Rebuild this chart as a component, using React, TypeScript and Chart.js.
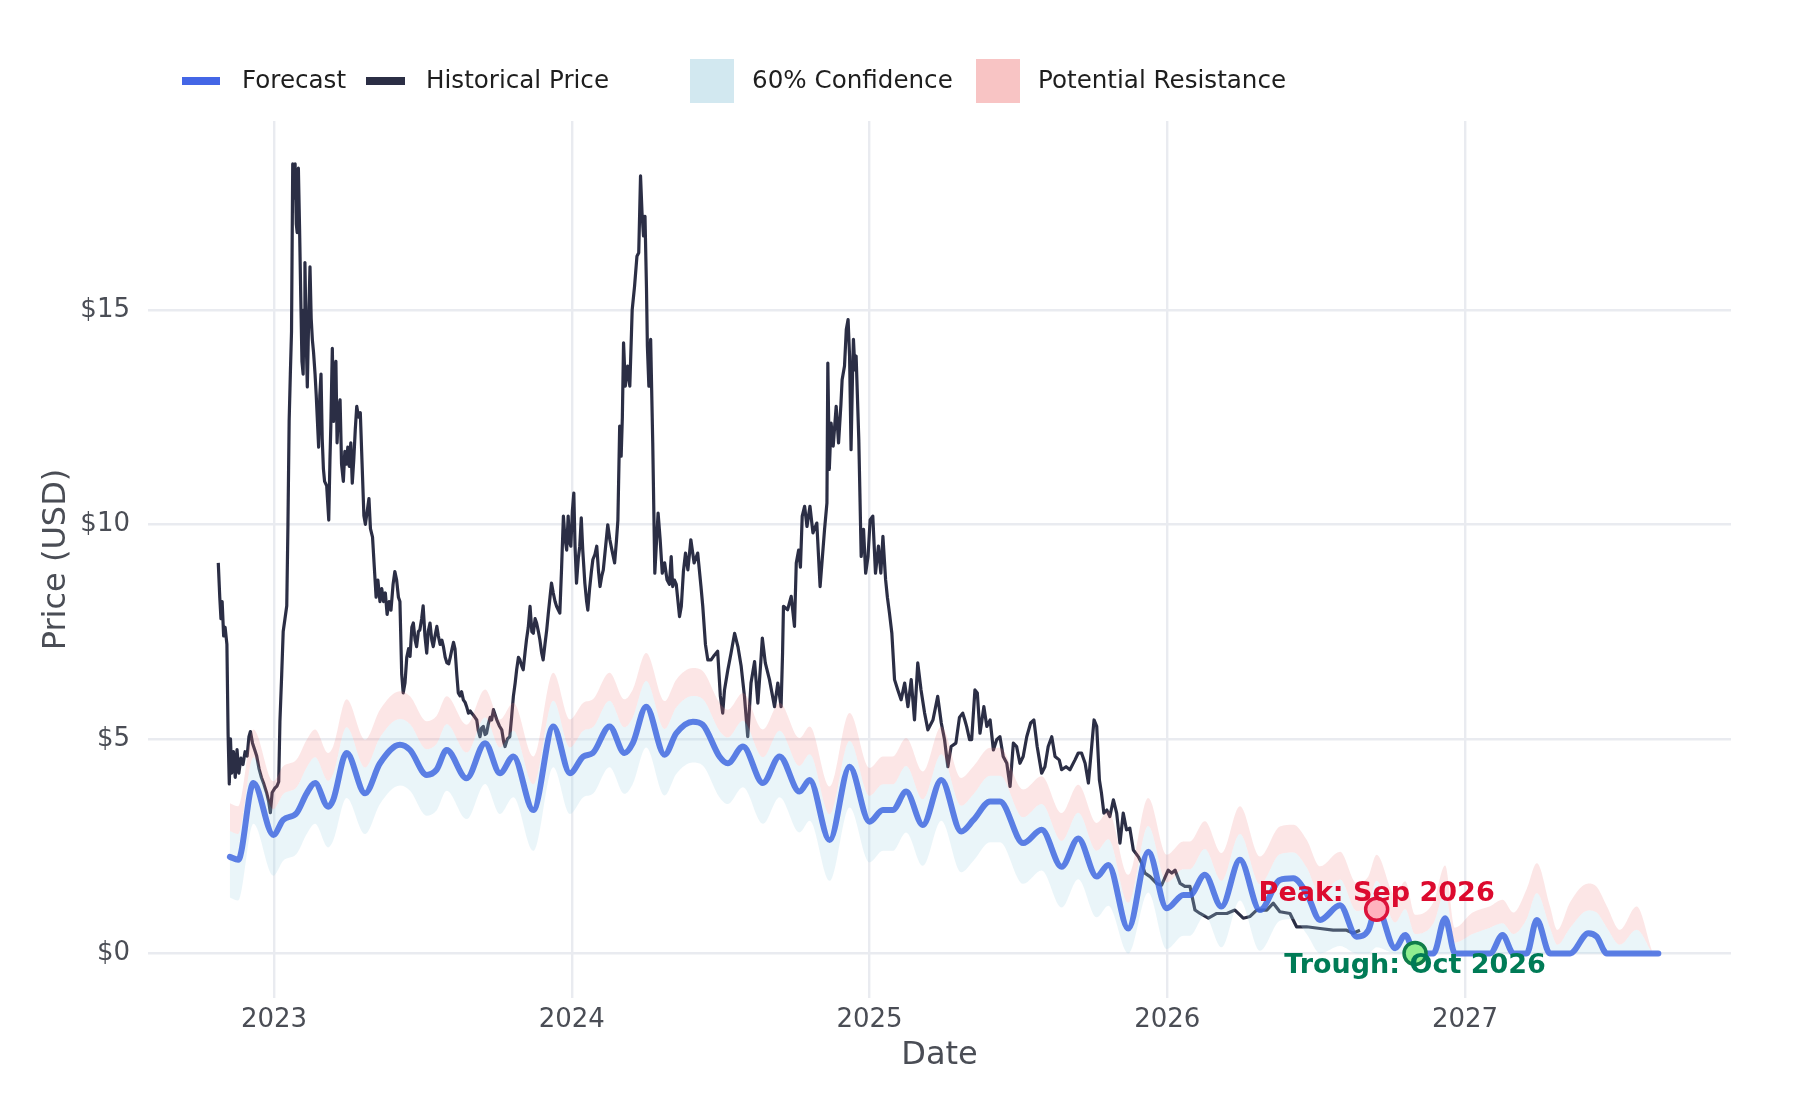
import React, { useEffect, useRef } from 'react';
import { Chart, registerables } from 'chart.js';

Chart.register(...registerables);

// ---------- data ----------
const yearTicks = [2023, 2024, 2025, 2026, 2027];
const priceTicks = [0, 5, 10, 15];
const seriesNames = ['Forecast', 'Historical Price', '60% Confidence', 'Potential Resistance'];
const axisTitles = { x: 'Date', y: 'Price (USD)' };

// [decimal year, price]
const historyPoints: [number, number][] = [
  [2022.813, 9.1], [2022.818, 8.3], [2022.822, 7.8], [2022.826, 8.2], [2022.831, 7.4], [2022.836, 7.6],
  [2022.842, 7.2], [2022.846, 5.1], [2022.85, 3.95], [2022.854, 5.0], [2022.858, 4.2], [2022.864, 4.7],
  [2022.87, 4.1], [2022.876, 4.75], [2022.882, 4.2], [2022.889, 4.55], [2022.896, 4.4], [2022.903, 4.7],
  [2022.91, 4.6], [2022.916, 5.05], [2022.921, 5.17], [2022.928, 4.9], [2022.935, 4.75], [2022.942, 4.6],
  [2022.95, 4.3], [2022.958, 4.1], [2022.966, 3.95], [2022.975, 3.75], [2022.982, 3.55], [2022.988, 3.28],
  [2022.994, 3.75], [2023.003, 3.85], [2023.01, 3.9], [2023.016, 4.0], [2023.02, 5.4], [2023.026, 6.5],
  [2023.031, 7.5], [2023.037, 7.8], [2023.043, 8.1], [2023.047, 10.0], [2023.051, 12.4], [2023.055, 13.5],
  [2023.059, 14.5], [2023.063, 18.4], [2023.067, 17.6], [2023.071, 18.4], [2023.075, 17.0], [2023.078, 16.8],
  [2023.082, 18.3], [2023.086, 16.9], [2023.09, 15.3], [2023.094, 13.8], [2023.098, 13.5], [2023.101, 15.0],
  [2023.104, 16.1], [2023.108, 14.4], [2023.112, 13.2], [2023.116, 14.6], [2023.121, 16.0], [2023.125, 14.8],
  [2023.129, 14.3], [2023.133, 14.0], [2023.138, 13.5], [2023.142, 13.0], [2023.146, 12.4], [2023.15, 11.8],
  [2023.154, 13.0], [2023.158, 13.5], [2023.162, 12.0], [2023.166, 11.3], [2023.17, 11.0], [2023.177, 10.9],
  [2023.184, 10.1], [2023.188, 11.5], [2023.191, 12.3], [2023.196, 14.1], [2023.2, 12.4], [2023.204, 13.6],
  [2023.208, 13.8], [2023.212, 11.9], [2023.217, 12.7], [2023.222, 12.9], [2023.227, 11.4], [2023.233, 11.0],
  [2023.238, 11.7], [2023.243, 11.4], [2023.248, 11.8], [2023.253, 11.35], [2023.258, 11.9], [2023.263, 10.96],
  [2023.268, 11.5], [2023.273, 12.2], [2023.278, 12.75], [2023.284, 12.5], [2023.29, 12.6], [2023.296, 11.4],
  [2023.302, 10.2], [2023.307, 10.0], [2023.313, 10.3], [2023.319, 10.6], [2023.324, 9.9], [2023.331, 9.7],
  [2023.337, 9.0], [2023.343, 8.3], [2023.349, 8.7], [2023.356, 8.2], [2023.362, 8.5], [2023.368, 8.2],
  [2023.374, 8.4], [2023.38, 7.9], [2023.387, 8.2], [2023.393, 8.0], [2023.4, 8.6], [2023.406, 8.9],
  [2023.412, 8.7], [2023.418, 8.3], [2023.423, 8.2], [2023.429, 6.5], [2023.434, 6.07], [2023.44, 6.3],
  [2023.446, 6.9], [2023.452, 7.1], [2023.457, 6.92], [2023.463, 7.6], [2023.468, 7.7], [2023.474, 7.3],
  [2023.479, 7.15], [2023.485, 7.5], [2023.49, 7.54], [2023.496, 7.8], [2023.501, 8.1], [2023.507, 7.4],
  [2023.513, 7.0], [2023.518, 7.5], [2023.524, 7.7], [2023.53, 7.3], [2023.535, 7.15], [2023.541, 7.4],
  [2023.547, 7.62], [2023.552, 7.4], [2023.558, 7.2], [2023.564, 7.3], [2023.569, 7.15], [2023.575, 6.9],
  [2023.581, 6.77], [2023.587, 6.75], [2023.592, 6.9], [2023.598, 7.1], [2023.603, 7.25], [2023.608, 7.1],
  [2023.614, 6.5], [2023.619, 6.07], [2023.625, 6.0], [2023.63, 6.1], [2023.636, 5.91], [2023.642, 5.85],
  [2023.647, 5.75], [2023.653, 5.6], [2023.659, 5.65], [2023.664, 5.6], [2023.67, 5.55], [2023.675, 5.5],
  [2023.681, 5.44], [2023.686, 5.2], [2023.692, 5.05], [2023.697, 5.25], [2023.703, 5.29], [2023.709, 5.1],
  [2023.714, 5.13], [2023.72, 5.35], [2023.726, 5.5], [2023.731, 5.44], [2023.737, 5.68], [2023.748, 5.45],
  [2023.757, 5.3], [2023.765, 5.21], [2023.771, 4.95], [2023.776, 4.82], [2023.784, 5.0], [2023.792, 5.05],
  [2023.798, 5.5], [2023.804, 5.99], [2023.81, 6.3], [2023.815, 6.61], [2023.821, 6.9], [2023.826, 6.84],
  [2023.832, 6.7], [2023.837, 6.61], [2023.843, 7.0], [2023.848, 7.31], [2023.854, 7.6], [2023.86, 8.09],
  [2023.866, 7.5], [2023.871, 7.46], [2023.877, 7.8], [2023.882, 7.7], [2023.888, 7.5], [2023.893, 7.31],
  [2023.899, 7.0], [2023.904, 6.84], [2023.91, 7.2], [2023.916, 7.54], [2023.921, 7.9], [2023.927, 8.3],
  [2023.932, 8.63], [2023.938, 8.4], [2023.944, 8.2], [2023.949, 8.09], [2023.955, 8.0], [2023.96, 7.93],
  [2023.966, 9.0], [2023.972, 10.19], [2023.977, 9.7], [2023.983, 9.4], [2023.988, 10.19], [2023.992, 9.6],
  [2023.997, 9.49], [2024.002, 10.3], [2024.007, 10.73], [2024.011, 9.5], [2024.016, 8.63], [2024.022, 9.2],
  [2024.027, 9.49], [2024.032, 10.15], [2024.037, 9.4], [2024.044, 8.63], [2024.05, 8.2], [2024.054, 8.0],
  [2024.06, 8.5], [2024.066, 8.9], [2024.071, 9.18], [2024.078, 9.3], [2024.084, 9.49], [2024.09, 8.9],
  [2024.095, 8.55], [2024.101, 8.8], [2024.106, 8.94], [2024.114, 9.5], [2024.121, 9.99], [2024.128, 9.64],
  [2024.135, 9.4], [2024.144, 9.1], [2024.15, 9.6], [2024.155, 10.1], [2024.161, 12.29], [2024.166, 11.59],
  [2024.17, 12.5], [2024.174, 14.23], [2024.18, 13.22], [2024.188, 13.69], [2024.195, 13.22], [2024.203, 15.0],
  [2024.211, 15.55], [2024.219, 16.25], [2024.225, 16.33], [2024.231, 18.12], [2024.236, 17.26], [2024.241, 16.72],
  [2024.246, 17.18], [2024.251, 15.5], [2024.254, 14.15], [2024.259, 13.22], [2024.265, 14.31], [2024.272, 11.9],
  [2024.279, 8.86], [2024.285, 9.64], [2024.29, 10.26], [2024.297, 9.64], [2024.304, 8.86], [2024.312, 9.1],
  [2024.32, 8.71], [2024.328, 8.6], [2024.334, 9.25], [2024.339, 8.55], [2024.345, 8.7], [2024.351, 8.6],
  [2024.362, 7.85], [2024.368, 8.09], [2024.375, 8.9], [2024.382, 9.33], [2024.39, 8.94], [2024.4, 9.64],
  [2024.411, 9.1], [2024.423, 9.33], [2024.434, 8.55], [2024.44, 8.09], [2024.449, 7.2], [2024.457, 6.84],
  [2024.468, 6.84], [2024.479, 6.95], [2024.49, 7.04], [2024.499, 6.0], [2024.507, 5.6], [2024.513, 6.14],
  [2024.524, 6.6], [2024.535, 7.0], [2024.547, 7.46], [2024.558, 7.15], [2024.569, 6.69], [2024.58, 5.99],
  [2024.591, 5.05], [2024.602, 6.3], [2024.614, 6.8], [2024.625, 5.83], [2024.635, 6.8], [2024.64, 7.35],
  [2024.65, 6.77], [2024.664, 6.38], [2024.681, 5.75], [2024.692, 6.3], [2024.703, 5.75], [2024.708, 7.0],
  [2024.711, 8.09], [2024.725, 8.01], [2024.737, 8.32], [2024.748, 7.62], [2024.754, 9.1], [2024.762, 9.4],
  [2024.768, 9.0], [2024.774, 10.19], [2024.782, 10.42], [2024.79, 9.95], [2024.8, 10.42], [2024.81, 9.8],
  [2024.823, 10.03], [2024.834, 8.55], [2024.849, 9.88], [2024.857, 10.5], [2024.86, 13.76], [2024.865, 11.28],
  [2024.871, 12.36], [2024.878, 11.82], [2024.888, 12.75], [2024.896, 11.9], [2024.904, 12.8], [2024.908, 13.37],
  [2024.916, 13.69], [2024.922, 14.54], [2024.928, 14.77], [2024.933, 13.92], [2024.938, 11.74], [2024.943, 13.5],
  [2024.946, 14.31], [2024.951, 13.6], [2024.955, 13.92], [2024.964, 11.98], [2024.972, 9.25], [2024.98, 9.88],
  [2024.987, 8.86], [2024.995, 9.25], [2025.002, 10.1], [2025.011, 10.19], [2025.02, 8.86], [2025.03, 9.49],
  [2025.038, 8.86], [2025.045, 9.72], [2025.054, 8.71], [2025.06, 8.3], [2025.067, 7.93], [2025.075, 7.46],
  [2025.084, 6.38], [2025.095, 6.14], [2025.106, 5.91], [2025.118, 6.3], [2025.129, 5.75], [2025.14, 6.38],
  [2025.151, 5.44], [2025.162, 6.77], [2025.173, 6.14], [2025.185, 5.6], [2025.196, 5.21], [2025.213, 5.44],
  [2025.229, 5.99], [2025.241, 5.37], [2025.252, 4.98], [2025.263, 4.35], [2025.274, 4.82], [2025.29, 4.9],
  [2025.302, 5.5], [2025.313, 5.6], [2025.32, 5.44], [2025.326, 5.29], [2025.336, 4.98], [2025.343, 4.98],
  [2025.354, 6.14], [2025.362, 6.07], [2025.371, 5.13], [2025.384, 5.75], [2025.394, 5.29], [2025.405, 5.44],
  [2025.416, 4.74], [2025.427, 4.98], [2025.438, 5.05], [2025.449, 4.59], [2025.461, 4.43], [2025.472, 3.89],
  [2025.483, 4.9], [2025.494, 4.82], [2025.505, 4.43], [2025.516, 4.59], [2025.528, 5.05], [2025.541, 5.37],
  [2025.552, 5.44], [2025.563, 4.82], [2025.578, 4.2], [2025.589, 4.35], [2025.6, 4.82], [2025.612, 5.05],
  [2025.623, 4.59], [2025.637, 4.51], [2025.645, 4.28], [2025.66, 4.35], [2025.673, 4.28], [2025.69, 4.51],
  [2025.701, 4.67], [2025.712, 4.67], [2025.724, 4.43], [2025.735, 3.97], [2025.746, 4.82], [2025.754, 5.44],
  [2025.763, 5.29], [2025.772, 4.04], [2025.779, 3.73], [2025.787, 3.27], [2025.797, 3.34], [2025.807, 3.19],
  [2025.819, 3.58], [2025.83, 3.27], [2025.841, 2.57], [2025.852, 3.27], [2025.863, 2.88], [2025.874, 2.92],
  [2025.886, 2.41], [2025.903, 2.25], [2025.914, 2.1], [2025.925, 1.87], [2025.942, 1.79], [2025.964, 1.63],
  [2025.981, 1.59], [2026.003, 1.94], [2026.015, 1.87], [2026.026, 1.94], [2026.043, 1.63], [2026.059, 1.56],
  [2026.076, 1.56], [2026.093, 1.01], [2026.11, 0.93], [2026.138, 0.82], [2026.166, 0.93], [2026.2, 0.93],
  [2026.227, 1.01], [2026.255, 0.82], [2026.278, 0.86], [2026.3, 1.01], [2026.334, 1.01], [2026.356, 1.17],
  [2026.378, 0.97], [2026.412, 0.93], [2026.434, 0.62], [2026.468, 0.62], [2026.513, 0.58], [2026.557, 0.54],
  [2026.602, 0.54], [2026.624, 0.47], [2026.647, 0.54],
];

// [decimal year, forecast price]
const forecastPoints: [number, number][] = [
  [2022.852, 2.25], [2022.88, 2.18], [2022.931, 3.97], [2022.998, 2.76], [2023.031, 3.11], [2023.076, 3.27],
  [2023.11, 3.73], [2023.138, 3.97], [2023.182, 3.42], [2023.199, 3.58], [2023.244, 4.67], [2023.306, 3.73],
  [2023.356, 4.43], [2023.423, 4.86], [2023.457, 4.74], [2023.513, 4.16], [2023.546, 4.28], [2023.58, 4.74],
  [2023.647, 4.08], [2023.709, 4.9], [2023.759, 4.2], [2023.804, 4.59], [2023.871, 3.34], [2023.938, 5.29],
  [2023.994, 4.2], [2024.039, 4.59], [2024.071, 4.67], [2024.127, 5.29], [2024.177, 4.67], [2024.205, 4.9],
  [2024.25, 5.75], [2024.312, 4.63], [2024.351, 5.13], [2024.407, 5.4], [2024.44, 5.33], [2024.496, 4.59],
  [2024.524, 4.43], [2024.575, 4.82], [2024.642, 3.97], [2024.698, 4.59], [2024.765, 3.77], [2024.799, 4.04],
  [2024.866, 2.64], [2024.933, 4.35], [2025.0, 3.07], [2025.045, 3.34], [2025.078, 3.34], [2025.123, 3.77],
  [2025.179, 2.99], [2025.241, 4.04], [2025.308, 2.84], [2025.349, 3.11], [2025.405, 3.54], [2025.438, 3.54],
  [2025.516, 2.57], [2025.578, 2.88], [2025.645, 2.02], [2025.701, 2.68], [2025.763, 1.79], [2025.802, 2.06],
  [2025.869, 0.58], [2025.936, 2.37], [2025.998, 1.05], [2026.054, 1.36], [2026.076, 1.36], [2026.126, 1.83],
  [2026.182, 1.09], [2026.244, 2.18], [2026.311, 1.01], [2026.378, 1.71], [2026.423, 1.75], [2026.468, 1.4],
  [2026.513, 0.78], [2026.58, 1.12], [2026.636, 0.39], [2026.675, 0.54], [2026.703, 1.09], [2026.765, 0.12],
  [2026.799, 0.43], [2026.832, 0], [2026.894, 0], [2026.933, 0.82], [2026.966, 0], [2027.084, 0],
  [2027.126, 0.43], [2027.162, 0], [2027.207, 0], [2027.241, 0.78], [2027.285, 0], [2027.353, 0],
  [2027.414, 0.47], [2027.442, 0.39], [2027.476, 0], [2027.649, 0],
];

// [decimal year, lower 60% bound, upper 60% bound]
const confidenceBand: [number, number, number][] = [
  [2022.852, 1.3, 2.85], [2022.88, 1.23, 2.78], [2022.931, 3.02, 4.57], [2022.998, 1.81, 3.36],
  [2023.031, 2.16, 3.71], [2023.076, 2.32, 3.87], [2023.11, 2.78, 4.33], [2023.138, 3.02, 4.57],
  [2023.182, 2.47, 4.02], [2023.199, 2.63, 4.18], [2023.244, 3.62, 5.27], [2023.306, 2.78, 4.33],
  [2023.356, 3.48, 5.03], [2023.423, 3.91, 5.46], [2023.457, 3.79, 5.34], [2023.513, 3.21, 4.76],
  [2023.546, 3.33, 4.88], [2023.58, 3.79, 5.34], [2023.647, 3.13, 4.68], [2023.709, 3.95, 5.5],
  [2023.759, 3.25, 4.8], [2023.804, 3.64, 5.19], [2023.871, 2.39, 3.94], [2023.938, 4.34, 5.89],
  [2023.994, 3.25, 4.8], [2024.039, 3.64, 5.19], [2024.071, 3.72, 5.27], [2024.127, 4.34, 5.89],
  [2024.177, 3.72, 5.27], [2024.205, 3.95, 5.5], [2024.25, 4.8, 6.35], [2024.312, 3.68, 5.23],
  [2024.351, 4.18, 5.73], [2024.407, 4.45, 6.0], [2024.44, 4.38, 5.93], [2024.496, 3.64, 5.19],
  [2024.524, 3.48, 5.03], [2024.575, 3.87, 5.42], [2024.642, 3.02, 4.57], [2024.698, 3.64, 5.19],
  [2024.765, 2.82, 4.37], [2024.799, 3.09, 4.64], [2024.866, 1.69, 3.24], [2024.933, 3.4, 4.95],
  [2025.0, 2.12, 3.67], [2025.045, 2.39, 3.94], [2025.078, 2.39, 3.94], [2025.123, 2.82, 4.37],
  [2025.179, 2.04, 3.59], [2025.241, 3.09, 4.64], [2025.308, 1.89, 3.44], [2025.349, 2.16, 3.71],
  [2025.405, 2.59, 4.14], [2025.438, 2.59, 4.14], [2025.516, 1.62, 3.17], [2025.578, 1.93, 3.48],
  [2025.645, 1.07, 2.62], [2025.701, 1.73, 3.28], [2025.763, 0.84, 2.39], [2025.802, 1.11, 2.66],
  [2025.869, 0, 1.18], [2025.936, 1.42, 2.97], [2025.998, 0.1, 1.65], [2026.054, 0.41, 1.96],
  [2026.076, 0.41, 1.96], [2026.126, 0.88, 2.43], [2026.182, 0.14, 1.69], [2026.244, 1.23, 2.78],
  [2026.311, 0.06, 1.61], [2026.378, 0.76, 2.31], [2026.423, 0.8, 2.35], [2026.468, 0.45, 2.0],
  [2026.513, 0, 1.38], [2026.58, 0.17, 1.72], [2026.636, 0, 0.99], [2026.675, 0, 1.14],
  [2026.703, 0.14, 1.69], [2026.765, 0, 0.72], [2026.799, 0, 1.03], [2026.832, 0, 0.45],
  [2026.894, 0, 0.7], [2026.933, 0, 1.42], [2026.966, 0, 0.25], [2027.025, 0, 0.45],
  [2027.084, 0, 0.6], [2027.126, 0, 0.7], [2027.162, 0, 0.45], [2027.207, 0, 0.8],
  [2027.241, 0, 1.4], [2027.285, 0, 0.6], [2027.31, 0, 0.2], [2027.353, 0, 0.6],
  [2027.414, 0, 1.0], [2027.442, 0, 0.95], [2027.476, 0, 0.6], [2027.52, 0, 0.2],
  [2027.576, 0, 0.55], [2027.627, 0, 0.03],
];

// [decimal year, resistance level]
const resistanceBand: [number, number][] = [
  [2022.852, 3.5], [2022.88, 3.43], [2022.931, 5.22], [2022.998, 4.01], [2023.031, 4.36], [2023.076, 4.52],
  [2023.11, 4.98], [2023.138, 5.22], [2023.182, 4.67], [2023.199, 4.83], [2023.244, 5.92], [2023.306, 4.98],
  [2023.356, 5.68], [2023.423, 6.11], [2023.457, 5.99], [2023.513, 5.41], [2023.546, 5.53], [2023.58, 5.99],
  [2023.647, 5.33], [2023.709, 6.15], [2023.759, 5.45], [2023.804, 5.84], [2023.871, 4.59], [2023.938, 6.54],
  [2023.994, 5.45], [2024.039, 5.84], [2024.071, 5.92], [2024.127, 6.54], [2024.177, 5.92], [2024.205, 6.15],
  [2024.25, 7.0], [2024.312, 5.88], [2024.351, 6.38], [2024.407, 6.65], [2024.44, 6.58], [2024.496, 5.84],
  [2024.524, 5.68], [2024.575, 6.07], [2024.642, 5.22], [2024.698, 5.84], [2024.765, 5.02], [2024.799, 5.29],
  [2024.866, 3.89], [2024.933, 5.6], [2025.0, 4.32], [2025.045, 4.59], [2025.078, 4.59], [2025.123, 5.02],
  [2025.179, 4.24], [2025.241, 5.29], [2025.308, 4.09], [2025.349, 4.36], [2025.405, 4.79], [2025.438, 4.79],
  [2025.516, 3.82], [2025.578, 4.13], [2025.645, 3.27], [2025.701, 3.93], [2025.763, 3.04], [2025.802, 3.31],
  [2025.869, 1.83], [2025.936, 3.62], [2025.998, 2.3], [2026.054, 2.61], [2026.076, 2.61], [2026.126, 3.08],
  [2026.182, 2.34], [2026.244, 3.43], [2026.311, 2.26], [2026.378, 2.96], [2026.423, 3.0], [2026.468, 2.65],
  [2026.513, 2.03], [2026.58, 2.37], [2026.636, 1.64], [2026.675, 1.79], [2026.703, 2.3], [2026.765, 1.37],
  [2026.799, 1.68], [2026.832, 0.9], [2026.894, 1.2], [2026.933, 2.05], [2026.966, 0.6], [2027.025, 0.95],
  [2027.084, 1.1], [2027.126, 1.25], [2027.162, 0.95], [2027.207, 1.5], [2027.241, 2.1], [2027.285, 1.1],
  [2027.31, 0.55], [2027.353, 1.2], [2027.414, 1.63], [2027.442, 1.55], [2027.476, 1.1], [2027.52, 0.55],
  [2027.576, 1.09], [2027.627, 0.08],
];

const markerPoints: [number, number][] = [[2026.703, 1.03], [2026.832, 0]];
const markerLabels = ['Peak: Sep 2026', 'Trough: Oct 2026'];

// ---------- styles ----------
const FONT = "'DejaVu Sans', 'Liberation Sans', sans-serif";
const FORECAST_COLOR = 'rgba(65,105,225,0.85)';
const HISTORY_COLOR = '#2b2e45';
const CONF_FILL = 'rgba(173,216,230,0.25)';
const RESIST_FILL = 'rgba(240,128,128,0.2)';
const GRID_COLOR = '#e9ebf0';
const TICK_COLOR = '#4a4d55';

const legendPlugin = {
  id: 'topLegend',
  afterDraw(chart: any) {
    const ctx = chart.ctx;
    ctx.save();
    const y = 81;
    ctx.lineCap = 'butt';
    ctx.lineWidth = 8;
    ctx.strokeStyle = '#4466e6';
    ctx.beginPath(); ctx.moveTo(182, y); ctx.lineTo(220, y); ctx.stroke();
    ctx.strokeStyle = HISTORY_COLOR;
    ctx.beginPath(); ctx.moveTo(366, y); ctx.lineTo(405, y); ctx.stroke();
    ctx.fillStyle = 'rgb(210,232,240)';
    ctx.fillRect(690, 59, 44, 44);
    ctx.fillStyle = 'rgb(248,196,196)';
    ctx.fillRect(976, 59, 44, 44);
    ctx.font = `24.6px ${FONT}`;
    ctx.fillStyle = '#1e1e1e';
    ctx.textBaseline = 'middle';
    ctx.textAlign = 'left';
    ctx.fillText(seriesNames[0], 242, y + 1);
    ctx.fillText(seriesNames[1], 426, y + 1);
    ctx.fillText(seriesNames[2], 752, y + 1);
    ctx.fillText(seriesNames[3], 1038, y + 1);
    ctx.restore();
  },
};

const annotationPlugin = {
  id: 'markerLabels',
  afterDatasetsDraw(chart: any) {
    const meta = chart.getDatasetMeta(5);
    if (!meta || !meta.data) return;
    const ctx = chart.ctx;
    ctx.save();
    ctx.font = `bold 27px ${FONT}`;
    ctx.textAlign = 'center';
    ctx.textBaseline = 'middle';
    const colors = ['#dc0a2e', '#007b56'];
    const offsets = [-15, 13];
    meta.data.forEach((el: any, i: number) => {
      ctx.fillStyle = colors[i];
      ctx.fillText(markerLabels[i], el.x, el.y + offsets[i]);
    });
    ctx.restore();
  },
};

export default function App() {
  const canvasRef = useRef<HTMLCanvasElement | null>(null);

  useEffect(() => {
    if (!canvasRef.current) return;
    const toXY = (p: number[], idx: number) => ({ x: p[0], y: p[idx] });

    const chart = new Chart(canvasRef.current, {
      type: 'line',
      data: {
        datasets: [
          {
            label: seriesNames[1],
            data: historyPoints.map((p) => toXY(p, 1)),
            borderColor: HISTORY_COLOR,
            borderWidth: 3.2,
            borderJoinStyle: 'round',
            pointRadius: 0,
            tension: 0,
            fill: false,
            order: 5,
          },
          {
            label: 'conf-lower',
            data: confidenceBand.map((p) => toXY(p, 1)),
            borderColor: 'rgba(0,0,0,0)',
            borderWidth: 0,
            pointRadius: 0,
            cubicInterpolationMode: 'monotone',
            fill: false,
            order: 4,
          },
          {
            label: seriesNames[2],
            data: confidenceBand.map((p) => toXY(p, 2)),
            borderColor: 'rgba(0,0,0,0)',
            borderWidth: 0,
            pointRadius: 0,
            backgroundColor: CONF_FILL,
            cubicInterpolationMode: 'monotone',
            fill: { target: 1 },
            order: 4,
          },
          {
            label: seriesNames[3],
            data: resistanceBand.map((p) => toXY(p, 1)),
            borderColor: 'rgba(0,0,0,0)',
            borderWidth: 0,
            pointRadius: 0,
            backgroundColor: RESIST_FILL,
            cubicInterpolationMode: 'monotone',
            fill: { target: 2 },
            order: 4,
          },
          {
            label: seriesNames[0],
            data: forecastPoints.map((p) => toXY(p, 1)),
            borderColor: FORECAST_COLOR,
            borderWidth: 6,
            pointRadius: 0,
            cubicInterpolationMode: 'monotone',
            borderJoinStyle: 'round',
            borderCapStyle: 'round',
            fill: false,
            order: 2,
          },
          {
            label: 'markers',
            data: markerPoints.map((p) => toXY(p, 1)),
            showLine: false,
            pointRadius: 11,
            pointBorderWidth: 3.5,
            pointBackgroundColor: ['rgb(255,178,190)', 'rgb(144,238,144)'],
            pointBorderColor: ['#dc143c', '#0f7d4a'],
            order: 1,
          },
        ] as any,
      },
      options: {
        responsive: false,
        devicePixelRatio: 1,
        animation: false,
        layout: { padding: { left: 0, right: 69, top: 121, bottom: 0 } },
        plugins: {
          legend: { display: false },
          tooltip: { enabled: false },
          title: { display: false },
        },
        scales: {
          x: {
            type: 'linear',
            min: 2022.577,
            max: 2027.893,
            afterFit: (s: any) => { s.height = 102; },
            afterBuildTicks: (axis: any) => { axis.ticks = yearTicks.map((v) => ({ value: v })); },
            ticks: {
              color: TICK_COLOR,
              font: { family: FONT, size: 26 },
              padding: 7,
              maxRotation: 0,
              autoSkip: false,
              callback: (v: any) => String(v),
            },
            grid: { color: GRID_COLOR, lineWidth: 2.4, drawTicks: false },
            border: { display: false },
            title: {
              display: true,
              text: axisTitles.x,
              color: TICK_COLOR,
              font: { family: FONT, size: 32 },
              padding: { top: 0, bottom: 25 },
            },
          },
          y: {
            type: 'linear',
            min: -1.04,
            max: 19.4,
            afterFit: (s: any) => { s.width = 148; },
            afterBuildTicks: (axis: any) => { axis.ticks = priceTicks.map((v) => ({ value: v })); },
            ticks: {
              color: TICK_COLOR,
              font: { family: FONT, size: 26 },
              padding: 18,
              callback: (v: any) => `$${v}`,
            },
            grid: { color: GRID_COLOR, lineWidth: 2.4, drawTicks: false },
            border: { display: false },
            title: {
              display: true,
              text: axisTitles.y,
              color: TICK_COLOR,
              font: { family: FONT, size: 32 },
              padding: { top: 37, bottom: 0 },
            },
          },
        },
      } as any,
      plugins: [legendPlugin, annotationPlugin],
    });
    return () => chart.destroy();
  }, []);

  return (
    <div style={{ position: 'fixed', left: 0, top: 0, width: 1800, height: 1100, background: '#fff' }}>
      <canvas ref={canvasRef} width={1800} height={1100} style={{ width: 1800, height: 1100 }} />
    </div>
  );
}
